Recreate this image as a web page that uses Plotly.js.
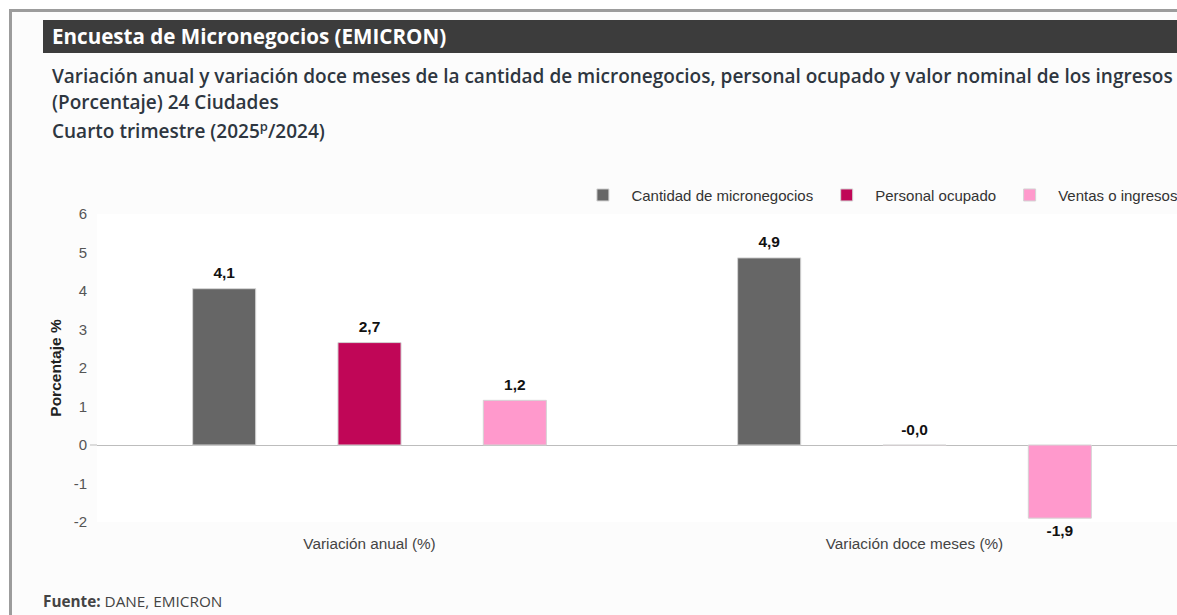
<!DOCTYPE html>
<html>
<head>
<meta charset="utf-8">
<script src="https://cdn.plot.ly/plotly-3.0.1.min.js"></script>
<style>
  html, body { margin:0; padding:0; width:1177px; height:615px; overflow:hidden; background:#ffffff; }
  #frame { position:absolute; left:9px; top:9px; width:1300px; height:700px; border-left:3px solid #9c9c9c; border-top:3px solid #9c9c9c; background:#fcfcfc; }
  #header { position:absolute; left:43px; top:20px; width:1300px; height:33px; background:#3c3c3c; color:#fff;
            font-family:"Open Sans", sans-serif; font-weight:700; font-size:20.6px; line-height:33px; padding-left:9px; box-sizing:border-box; white-space:nowrap; }
  .sub { position:absolute; left:52px; font-family:"Open Sans", sans-serif; font-weight:600; font-size:19px; color:#2e3640; white-space:nowrap; }
  #fuente { position:absolute; left:43px; top:591px; font-family:"Open Sans", sans-serif; font-size:15.3px; color:#444; white-space:nowrap; }
  #chart { position:absolute; left:0; top:0; width:1240px; height:615px; }
  sup { font-size:13px; }
</style>
</head>
<body>
<div id="frame"></div>
<div id="header">Encuesta de Micronegocios (EMICRON)</div>
<div class="sub" style="top:63px">Variación anual y variación doce meses de la cantidad de micronegocios, personal ocupado y valor nominal de los ingresos</div>
<div class="sub" style="top:89px">(Porcentaje) 24 Ciudades</div>
<div class="sub" style="top:117px">Cuarto trimestre (2025<sup>p</sup>/2024)</div>
<div id="chart"></div>
<div id="fuente"><b>Fuente:</b> DANE, EMICRON</div>
<script>
const categories = ['Variación anual (%)', 'Variación doce meses (%)'];
const seriesNames = ['Cantidad de micronegocios', 'Personal ocupado', 'Ventas o ingresos'];
const seriesColors = ['#666666', '#c00657', '#ff99cc'];
const cantidad = [4.06, 4.86];
const personal = [2.66, -0.01];
const ventas = [1.16, -1.90];
const yTicks = [-2, -1, 0, 1, 2, 3, 4, 5, 6];

const FONT = 'Liberation Sans, Arial, sans-serif';
const fmt = v => v.toFixed(1).replace('.', ',');
const roundedNeg = v => Math.round(v * 10) < 0;
const seriesValues = [cantidad, personal, ventas];

const barTraces = seriesValues.map((vals, i) => ({
  type: 'bar',
  name: seriesNames[i],
  x: categories,
  y: vals,
  textposition: 'none',
  marker: { color: seriesColors[i], line: { color: '#d4d4d4', width: 1 } },
  hoverinfo: 'none'
}));

const labelTraces = seriesValues.map((vals, i) => ({
  type: 'scatter',
  mode: 'markers+text',
  showlegend: false,
  x: categories,
  y: vals.map(v => roundedNeg(v) ? v : Math.max(v, 0)),
  text: vals.map(fmt),
  textposition: vals.map(v => roundedNeg(v) ? 'bottom center' : 'top center'),
  textfont: { family: FONT, size: 15.5, color: '#111', weight: 'bold' },
  marker: { size: 9, color: 'rgba(0,0,0,0)' },
  cliponaxis: false,
  hoverinfo: 'none'
}));

const layout = {
  width: 1240, height: 615,
  margin: { l: 97, r: 53, t: 214, b: 93 },
  paper_bgcolor: 'rgba(0,0,0,0)',
  plot_bgcolor: '#ffffff',
  barmode: 'group',
  bargap: 0.2,
  bargroupgap: 0.566,
  scattermode: 'group',
  scattergap: 0.2,
  showlegend: true,
  legend: {
    orientation: 'h', x: 0.438, xanchor: 'left', y: 1.061, yanchor: 'middle',
    font: { family: FONT, size: 15, color: '#333' },
    itemwidth: 47, traceorder: 'normal', bgcolor: 'rgba(0,0,0,0)'
  },
  xaxis: {
    type: 'category', showgrid: false, showline: false, ticks: '', zeroline: false,
    tickfont: { family: FONT, size: 15.3, color: '#444' },
    ticklabelstandoff: 11
  },
  yaxis: {
    range: [-2, 6], tickvals: yTicks, ticktext: yTicks.map(String), showgrid: false, showline: false,
    zeroline: true, zerolinecolor: '#bdbdbd', zerolinewidth: 1,
    ticks: '', tickfont: { family: FONT, size: 15, color: '#555' },
    ticklabelstandoff: 9,
    title: { text: 'Porcentaje %', font: { family: FONT, size: 15.5, color: '#222', weight: 'bold' }, standoff: 8 }
  },
  shapes: [
    { type: 'line', xref: 'paper', yref: 'y', x0: -0.0065, x1: 0, y0: 0, y1: 0, line: { color: '#bdbdbd', width: 1 } }
  ]
};

Plotly.newPlot('chart', barTraces.concat(labelTraces), layout, { displayModeBar: false, staticPlot: true });
</script>
</body>
</html>
